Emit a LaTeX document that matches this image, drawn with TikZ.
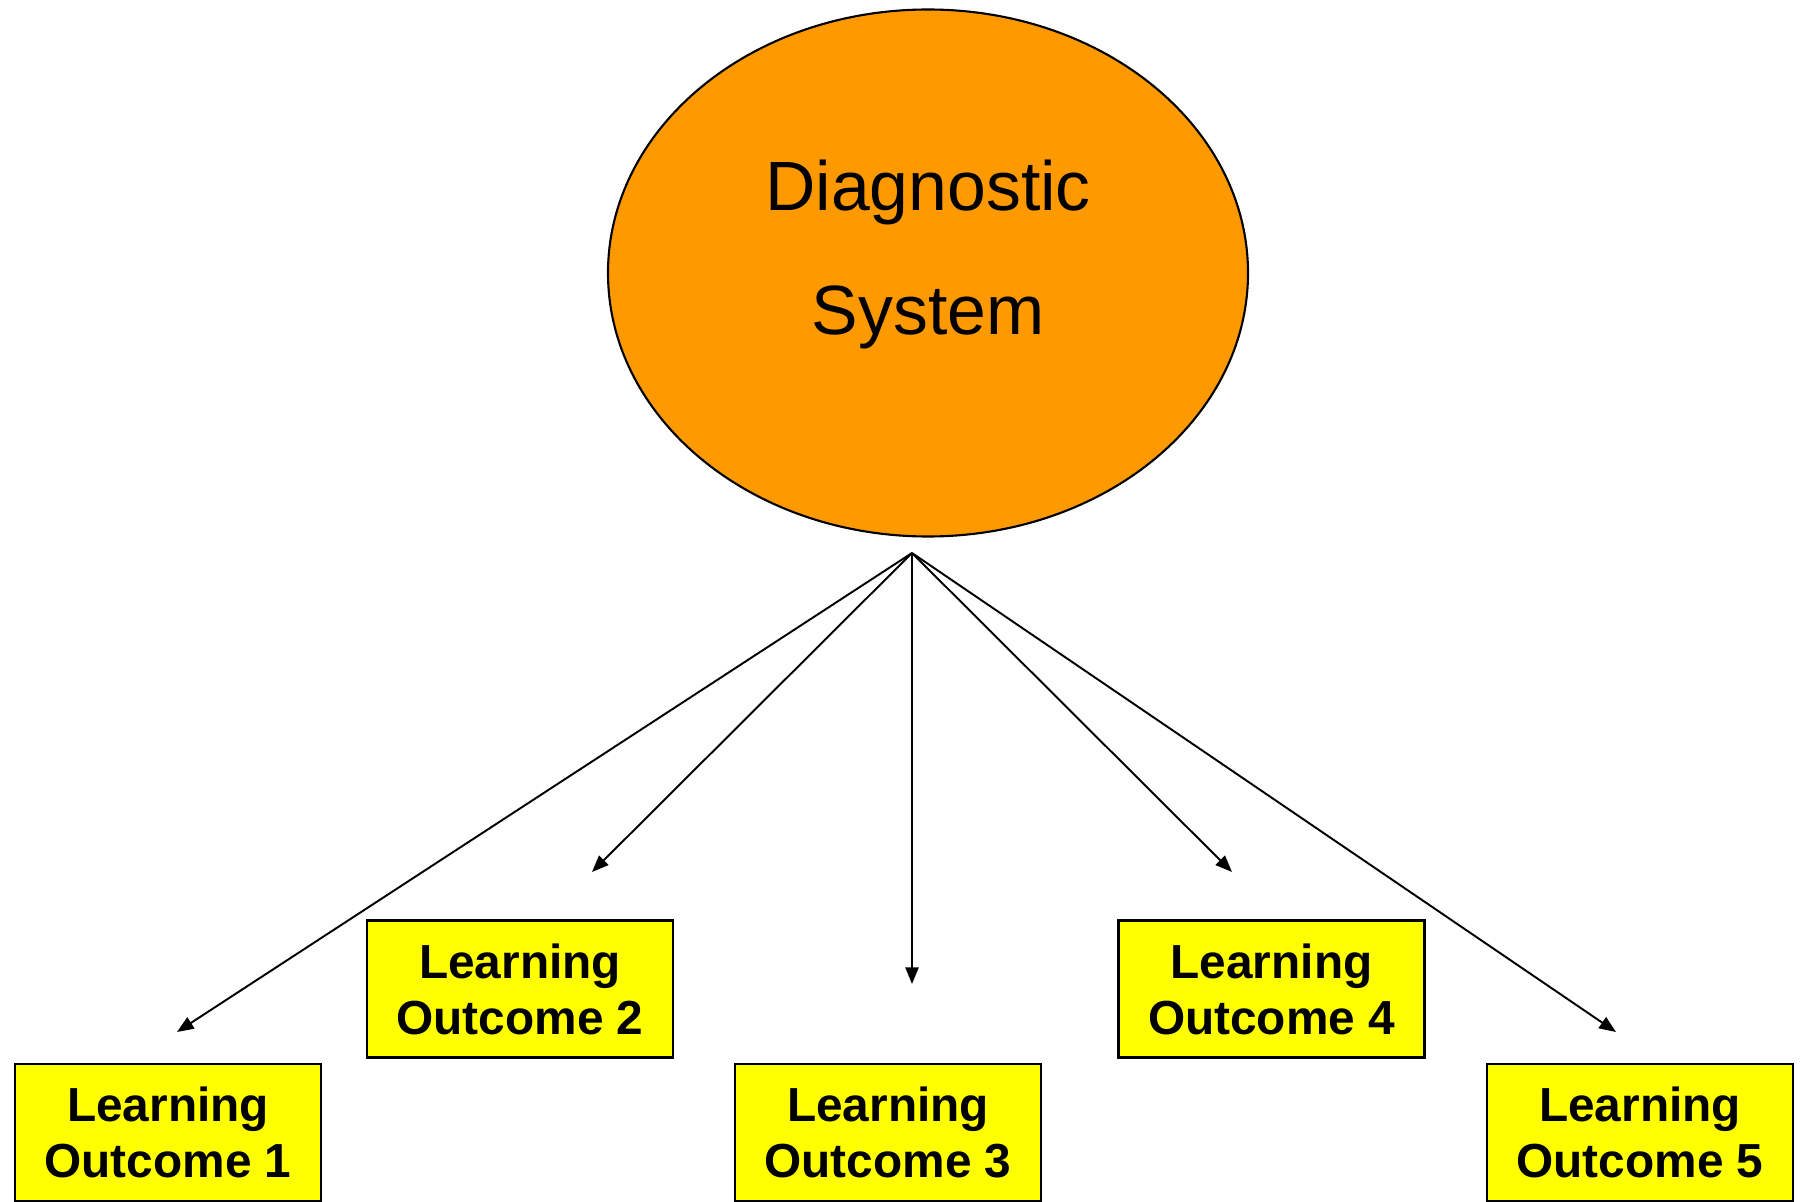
\documentclass[tikz,border=0pt]{standalone}
\usepackage{fontspec}
\setmainfont{Liberation Sans}
\usetikzlibrary{shapes.geometric,arrows.meta}
\definecolor{dsorange}{RGB}{255,153,0}
\definecolor{loyellow}{RGB}{255,255,0}
\begin{document}
\begin{tikzpicture}[x=0.02cm,y=-0.02cm,
  outbox/.style={draw=black,fill=loyellow,line width=1.2pt,minimum width=306*0.02cm,minimum height=137*0.02cm,inner sep=0pt,align=center,font=\fontsize{27.2}{31.8}\selectfont\bfseries},
  dstext/.style={anchor=base,inner sep=0pt,font=\fontsize{39.7}{46}\selectfont},
  conn/.style={line width=1.1pt,-{Triangle[length=9.5pt,width=7.5pt]}}]
\useasboundingbox (0,0) rectangle (1802,1202);
\node[ellipse,draw=black,fill=dsorange,line width=1.2pt,minimum width=640*0.02cm,minimum height=527*0.02cm,inner sep=0pt] (ds) at (928,273) {};
\node[dstext] (t1) at (928,211) {Diagnostic};
\node[dstext] (t2) at (928,335) {System};
\node[outbox] (lo1) at (168,1132.5) {Learning\\Outcome 1};
\node[outbox] (lo2) at (520,989) {Learning\\Outcome 2};
\node[outbox] (lo3) at (888,1132.5) {Learning\\Outcome 3};
\node[outbox] (lo4) at (1271.5,989) {Learning\\Outcome 4};
\node[outbox] (lo5) at (1640,1132.5) {Learning\\Outcome 5};
\coordinate (src) at (912,553);
\coordinate (e1) at (177,1032);
\coordinate (e2) at (592,872);
\coordinate (e3) at (912,984);
\coordinate (e4) at (1232,872);
\coordinate (e5) at (1616,1032);
\foreach \e in {e1,e2,e3,e4,e5} \draw[conn] (src) -- (\e);
\end{tikzpicture}
\end{document}
